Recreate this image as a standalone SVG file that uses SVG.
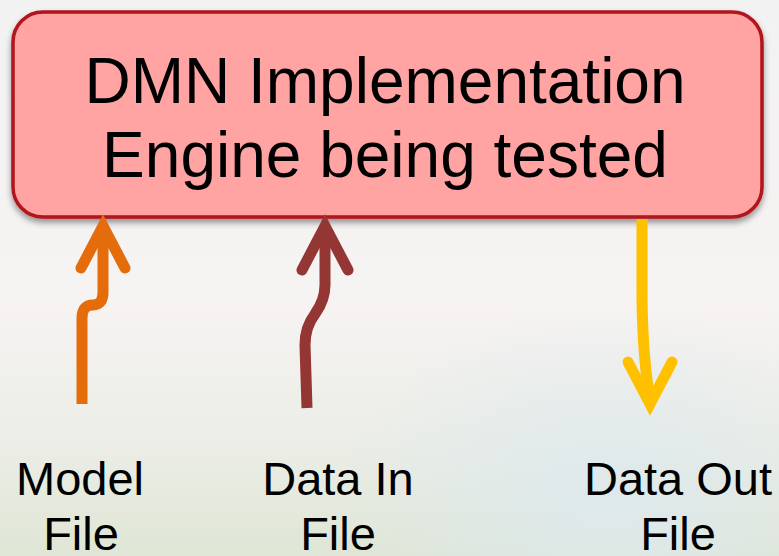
<svg xmlns="http://www.w3.org/2000/svg" width="779" height="556" viewBox="0 0 779 556">
  <defs>
    <linearGradient id="bg" x1="0" y1="0" x2="0" y2="1">
      <stop offset="0" stop-color="#f3f2f2"/>
      <stop offset="0.55" stop-color="#f6f3f2"/>
      <stop offset="0.8" stop-color="#ebede6"/>
      <stop offset="1" stop-color="#dfe6d5"/>
    </linearGradient>
    <radialGradient id="glow" cx="0.78" cy="0.9" r="0.35">
      <stop offset="0" stop-color="#dde9ee" stop-opacity="0.9"/>
      <stop offset="1" stop-color="#dde9ee" stop-opacity="0"/>
    </radialGradient>
    <filter id="shadow" x="-5%" y="-10%" width="110%" height="125%">
      <feDropShadow dx="0" dy="4" stdDeviation="3" flood-color="#000" flood-opacity="0.4"/>
    </filter>
    <style>
      .title { font-family: "Liberation Sans", Arial, sans-serif; font-size: 64px; fill: #000; text-anchor: middle; }
      .label { font-family: "Liberation Sans", Arial, sans-serif; font-size: 47px; fill: #000; text-anchor: middle; }
      .arrow { fill: none; stroke-width: 11; stroke-linecap: butt; stroke-linejoin: round; }
      .head { fill: none; stroke-width: 11; stroke-linecap: round; stroke-linejoin: miter; stroke-miterlimit: 10; }
    </style>
  </defs>
  <rect x="0" y="0" width="779" height="556" fill="url(#bg)"/>
  <rect x="0" y="0" width="779" height="556" fill="url(#glow)"/>

  <g id="engine" filter="url(#shadow)">
    <rect x="13" y="12" width="749" height="205" rx="30" ry="30" fill="#ffa3a3" stroke="#b0121a" stroke-width="3.5"/>
    <text class="title" x="385" y="103">DMN Implementation</text>
    <text class="title" x="385" y="177">Engine being tested</text>
  </g>

  <g id="connectors">
    <g id="model-arrow" stroke="#e46c0a">
      <path class="arrow" d="M 82 404 L 82 318 Q 82 305 93 305 Q 103 305 103 292 L 103 230"/>
      <path class="head" d="M 81 268 L 103 226 L 125 268"/>
    </g>
    <g id="datain-arrow" stroke="#943634">
      <path class="arrow" d="M 307 408 L 305 345 Q 305 327 315 314 Q 325 300 325 285 L 325 230"/>
      <path class="head" d="M 302 270 L 325 226 L 348 270"/>
    </g>
    <g id="dataout-arrow" stroke="#ffc000">
      <path class="arrow" d="M 642 219 L 642 300 Q 643 360 650 400"/>
      <path class="head" d="M 628 362 L 650 404 L 672 362"/>
    </g>
  </g>

  <g id="model-file">
    <text class="label" x="80" y="495">Model</text>
    <text class="label" x="81" y="550">File</text>
  </g>
  <g id="data-in-file">
    <text class="label" x="338" y="495">Data In</text>
    <text class="label" x="338" y="550">File</text>
  </g>
  <g id="data-out-file">
    <text class="label" x="678" y="495">Data Out</text>
    <text class="label" x="678" y="550">File</text>
  </g>
</svg>
